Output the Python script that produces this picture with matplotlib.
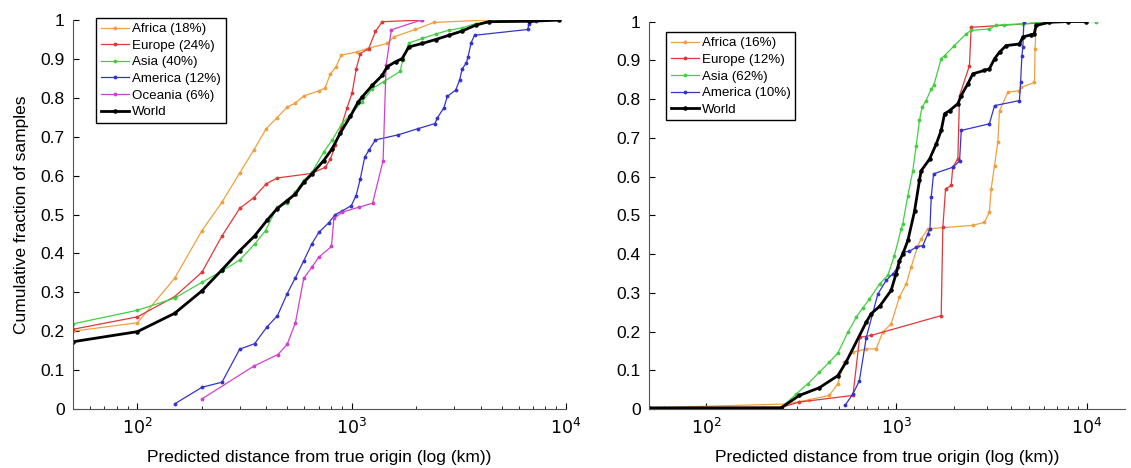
import math
import matplotlib
matplotlib.use('Agg')
import matplotlib.pyplot as plt
from matplotlib.ticker import FixedLocator, LogLocator, FuncFormatter, NullFormatter

plt.rcParams['font.family'] = ['Liberation Sans', 'DejaVu Sans']

# ---- panel A (left) ----
africa_a_x = [50, 100, 149, 200, 248, 300, 348, 399, 448, 499, 546, 597, 701, 750, 795, 845, 892, 1056, 1180, 1463, 1571, 1983, 2415, 4210]
africa_a_y = [0.200, 0.222, 0.336, 0.459, 0.532, 0.607, 0.665, 0.721, 0.749, 0.776, 0.787, 0.805, 0.818, 0.825, 0.862, 0.880, 0.910, 0.918, 0.927, 0.940, 0.957, 0.976, 0.994, 1.0]

europe_a_x = [50, 100, 149, 200, 248, 300, 348, 399, 448, 653, 753, 795, 837, 892, 951, 1003, 1050, 1096, 1200, 1290, 1387, 2130]
europe_a_y = [0.205, 0.237, 0.289, 0.352, 0.445, 0.516, 0.543, 0.579, 0.594, 0.606, 0.622, 0.643, 0.678, 0.725, 0.775, 0.812, 0.875, 0.914, 0.927, 0.971, 0.996, 1.0]

asia_a_x = [50, 100, 149, 200, 248, 300, 352, 396, 448, 499, 546, 597, 653, 740, 809, 900, 986, 1117, 1245, 1410, 1680, 1730, 1846, 2131, 2460, 2840, 3273, 3783, 4366, 5610]
asia_a_y = [0.219, 0.254, 0.285, 0.326, 0.355, 0.383, 0.424, 0.459, 0.519, 0.529, 0.558, 0.588, 0.609, 0.661, 0.691, 0.734, 0.757, 0.790, 0.824, 0.842, 0.868, 0.897, 0.941, 0.953, 0.964, 0.974, 0.980, 0.991, 0.997, 1.0]

america_a_x = [149, 200, 248, 300, 352, 402, 450, 499, 546, 597, 650, 701, 781, 837, 900, 995, 1048, 1096, 1150, 1200, 1290, 1645, 2040, 2444, 2505, 2693, 2792, 3054, 3193, 3273, 3428, 3490, 3606, 3740, 6637, 6700, 7210]
america_a_y = [0.013, 0.056, 0.069, 0.154, 0.168, 0.211, 0.240, 0.296, 0.338, 0.381, 0.424, 0.454, 0.479, 0.500, 0.509, 0.523, 0.549, 0.592, 0.648, 0.665, 0.692, 0.705, 0.721, 0.734, 0.748, 0.775, 0.804, 0.820, 0.847, 0.875, 0.890, 0.906, 0.942, 0.961, 0.976, 0.991, 0.997]

oceania_a_x = [200, 348, 452, 499, 546, 597, 650, 701, 804, 825, 900, 1078, 1250, 1400, 1446, 1530, 2100]
oceania_a_y = [0.026, 0.110, 0.140, 0.166, 0.222, 0.336, 0.364, 0.390, 0.418, 0.490, 0.506, 0.519, 0.529, 0.639, 0.884, 0.975, 1.0]

world_a_x = [50, 100, 149, 200, 248, 300, 352, 402, 448, 499, 546, 597, 653, 740, 809, 885, 986, 1070, 1117, 1245, 1387, 1463, 1600, 1718, 1846, 2131, 2460, 2840, 3273, 3783, 4366, 6714, 9270]
world_a_y = [0.173, 0.199, 0.246, 0.304, 0.358, 0.407, 0.445, 0.485, 0.515, 0.536, 0.553, 0.583, 0.605, 0.639, 0.669, 0.710, 0.753, 0.789, 0.802, 0.832, 0.858, 0.880, 0.893, 0.901, 0.931, 0.940, 0.950, 0.961, 0.972, 0.987, 0.996, 0.997, 1.0]

labels_a = ['Africa (18%)', 'Europe (24%)', 'Asia (40%)', 'America (12%)', 'Oceania (6%)', 'World']

# ---- panel B (right) ----
africa_b_x = [50, 263, 348, 443, 491, 532, 590, 693, 781, 847, 937, 1037, 1125, 1194, 1295, 1349, 1462, 2523, 2904, 3083, 3149, 3280, 3414, 3484, 3852, 4436, 4531, 5320, 5360, 5429, 6380]
africa_b_y = [0.003, 0.013, 0.024, 0.035, 0.065, 0.121, 0.147, 0.155, 0.155, 0.198, 0.220, 0.289, 0.323, 0.366, 0.422, 0.439, 0.465, 0.474, 0.482, 0.508, 0.568, 0.628, 0.689, 0.770, 0.817, 0.822, 0.830, 0.843, 0.930, 0.990, 1.0]

europe_b_x = [50, 250, 308, 590, 640, 736, 1719, 1754, 1812, 1940, 1978, 2103, 2147, 2420, 2472, 6380]
europe_b_y = [0.003, 0.005, 0.018, 0.035, 0.185, 0.190, 0.241, 0.469, 0.568, 0.577, 0.624, 0.646, 0.809, 0.886, 0.985, 0.998]

asia_b_x = [50, 247, 297, 341, 393, 443, 491, 555, 614, 665, 721, 815, 900, 975, 1059, 1079, 1148, 1219, 1270, 1321, 1364, 1432, 1523, 1570, 1719, 1790, 2017, 2326, 2472, 3083, 3350, 3700, 4622, 6380, 11250]
asia_b_y = [0.003, 0.003, 0.039, 0.065, 0.095, 0.121, 0.144, 0.198, 0.237, 0.261, 0.284, 0.323, 0.345, 0.396, 0.465, 0.478, 0.551, 0.615, 0.680, 0.745, 0.779, 0.796, 0.826, 0.835, 0.904, 0.912, 0.938, 0.968, 0.977, 0.981, 0.990, 0.992, 0.994, 1.0, 1.0]

america_b_x = [539, 590, 638, 693, 798, 883, 957, 1016, 1079, 1170, 1270, 1377, 1462, 1500, 1523, 1567, 1978, 2147, 2192, 3083, 3280, 4436, 4497, 4570, 4622, 4680]
america_b_y = [0.011, 0.039, 0.073, 0.184, 0.297, 0.332, 0.349, 0.366, 0.405, 0.407, 0.418, 0.422, 0.452, 0.465, 0.546, 0.607, 0.624, 0.640, 0.719, 0.736, 0.783, 0.796, 0.843, 0.912, 0.934, 1.0]

world_b_x = [50, 247, 308, 393, 491, 543, 693, 736, 815, 937, 995, 1037, 1079, 1148, 1244, 1321, 1349, 1493, 1619, 1719, 1790, 1901, 2104, 2190, 2373, 2521, 2904, 3083, 3280, 3484, 3777, 4436, 4622, 5112, 5300, 5429, 6380, 7970, 9940]
world_b_y = [0.003, 0.003, 0.035, 0.055, 0.086, 0.121, 0.224, 0.246, 0.265, 0.306, 0.349, 0.383, 0.400, 0.435, 0.510, 0.590, 0.615, 0.645, 0.684, 0.719, 0.762, 0.770, 0.788, 0.809, 0.839, 0.865, 0.874, 0.878, 0.904, 0.921, 0.938, 0.942, 0.960, 0.966, 0.968, 0.990, 0.998, 1.0, 1.0]

labels_b = ['Africa (16%)', 'Europe (12%)', 'Asia (62%)', 'America (10%)', 'World']

c_africa = '#f0a040'
c_europe = '#e03838'
c_asia = '#40d040'
c_america = '#3434cc'
c_oceania = '#d040d0'

fig = plt.figure(figsize=(11.31, 4.68), dpi=100)
ax1 = fig.add_axes([0.0645, 0.126, 0.436, 0.831])
ax2 = fig.add_axes([0.574, 0.126, 0.421, 0.828])


def thin(ax, x, y, c, lab):
    ax.plot(x, y, '.-', color=c, lw=0.9, ms=3.5, label=lab)


def world(ax, x, y, lab):
    ax.plot(x, y, '.-', color='black', lw=2.0, ms=4.5, label=lab)


thin(ax1, africa_a_x, africa_a_y, c_africa, labels_a[0])
thin(ax1, europe_a_x, europe_a_y, c_europe, labels_a[1])
thin(ax1, asia_a_x, asia_a_y, c_asia, labels_a[2])
thin(ax1, america_a_x, america_a_y, c_america, labels_a[3])
thin(ax1, oceania_a_x, oceania_a_y, c_oceania, labels_a[4])
world(ax1, world_a_x, world_a_y, labels_a[5])

thin(ax2, africa_b_x, africa_b_y, c_africa, labels_b[0])
thin(ax2, europe_b_x, europe_b_y, c_europe, labels_b[1])
thin(ax2, asia_b_x, asia_b_y, c_asia, labels_b[2])
thin(ax2, america_b_x, america_b_y, c_america, labels_b[3])
world(ax2, world_b_x, world_b_y, labels_b[4])

for ax, xmax in ((ax1, 1e4), (ax2, 1.6e4)):
    ax.set_xscale('log')
    ax.set_xlim(50, xmax)
    ax.set_ylim(0, 1)
    ax.xaxis.set_major_locator(FixedLocator([1e2, 1e3, 1e4]))
    ax.xaxis.set_major_formatter(FuncFormatter(lambda v, p: r'$10^{%d}$' % round(math.log10(v))))
    ax.xaxis.set_minor_locator(LogLocator(base=10, subs=range(2, 10)))
    ax.xaxis.set_minor_formatter(NullFormatter())
    ax.set_yticks([i / 10 for i in range(11)])
    ax.yaxis.set_major_formatter(FuncFormatter(lambda v, p: '%g' % v))
    ax.tick_params(axis='both', which='major', direction='in', length=4, labelsize=12.5, pad=6)
    ax.tick_params(axis='x', which='minor', direction='in', length=2.5)
    ax.spines['top'].set_visible(False)
    ax.spines['right'].set_visible(False)
    ax.spines['left'].set_color('#555555')
    ax.spines['bottom'].set_color('#555555')
    ax.set_xlabel('Predicted distance from true origin (log (km))', fontsize=12.5, labelpad=9)

ax1.set_ylabel('Cumulative fraction of samples', fontsize=12.5, labelpad=8)

leg_kw = dict(loc='upper left', fontsize=9.6, fancybox=False, edgecolor='black', framealpha=1,
              handlelength=2.1, labelspacing=0.32, borderpad=0.35, handletextpad=0.25,
              borderaxespad=0)
leg1 = ax1.legend(bbox_to_anchor=(0.047, 1.005), **leg_kw)
leg2 = ax2.legend(bbox_to_anchor=(0.035, 0.972), **leg_kw)
for leg in (leg1, leg2):
    leg.get_frame().set_linewidth(1.0)

fig.savefig('out.png', dpi=100)
